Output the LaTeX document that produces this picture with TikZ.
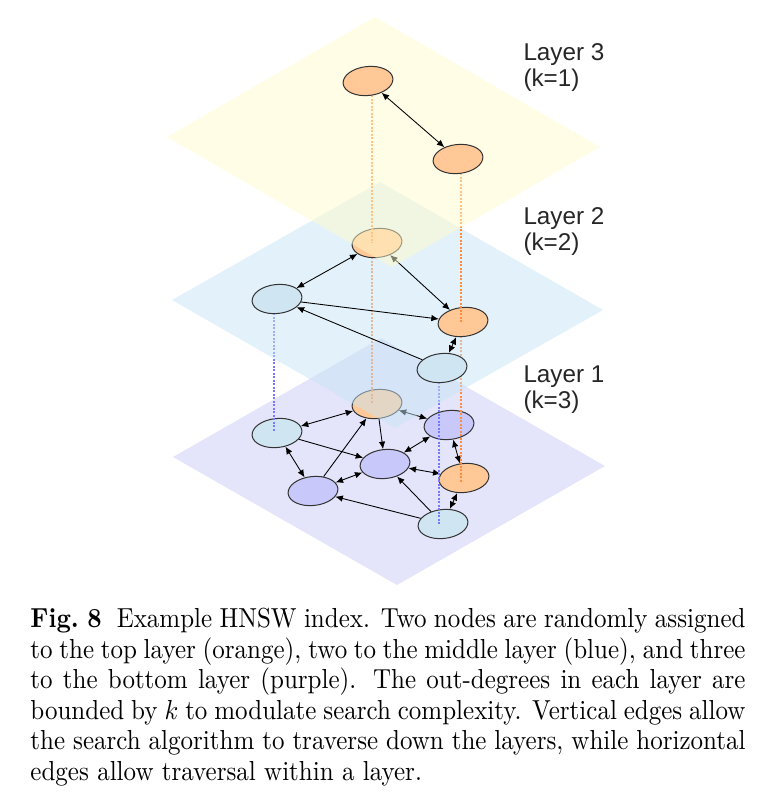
\documentclass[tikz,border=0pt]{standalone}
\usepackage{fontspec}
\usepackage{amsmath}
\usepackage{graphicx}
\usetikzlibrary{shapes.geometric, arrows.meta}
\newfontfamily\labelfont{Liberation Sans}
\definecolor{yellowplane}{RGB}{255,251,205}
\definecolor{blueplane}{RGB}{200,229,245}
\definecolor{purpleplane}{RGB}{228,228,251}
\definecolor{orangefill}{RGB}{255,200,150}
\definecolor{bluefill}{RGB}{207,229,242}
\definecolor{purplefill}{RGB}{200,200,250}
\definecolor{orangeline}{RGB}{255,140,60}
\definecolor{blueline}{RGB}{120,120,255}

\begin{document}
\begin{tikzpicture}[x=0.4pt,y=-0.4pt,
    hnode/.style={ellipse,draw=black!80,line width=0.4pt,minimum width=20pt,
                  minimum height=11.6pt,inner sep=0pt,rotate=6},
    onode/.style={hnode,fill=orangefill},
    bnode/.style={hnode,fill=bluefill},
    pnode/.style={hnode,fill=purplefill},
    bi/.style={{Latex[length=3pt,width=2.6pt]}-{Latex[length=3pt,width=2.6pt]},line width=0.35pt},
    uni/.style={-{Latex[length=3pt,width=2.6pt]},line width=0.35pt},
    odrop/.style={orangeline,line width=0.5pt,dash pattern=on 0.8pt off 0.6pt},
    bdrop/.style={blueline,line width=0.5pt,dash pattern=on 0.8pt off 0.6pt},
    layertxt/.style={anchor=north west,inner sep=0pt,align=left,text=black!85,
                     font=\labelfont\fontsize{9.7}{10.4}\selectfont}]
  \useasboundingbox (0,0) rectangle (772,793);

  % bottom layer
  \fill[purpleplane] (381,338) -- (605,466) -- (397,585) -- (173,457) -- cycle;

  \node[onode] (a1) at (377,404) {};
  \node[onode] (b1) at (464,478) {};
  \node[bnode] (c1) at (277,433) {};
  \node[bnode] (d1) at (443,524) {};
  \node[pnode] (e1) at (449,425) {};
  \node[pnode] (f1) at (385,464) {};
  \node[pnode] (g1) at (313,491) {};

  \draw[bi] (c1) -- (a1);
  \draw[bi] (a1) -- (e1);
  \draw[uni] (a1) -- (f1);
  \draw[uni] (c1) -- (f1);
  \draw[bi] (c1) -- (g1);
  \draw[uni] (g1) -- (a1);
  \draw[bi] (g1) -- (f1);
  \draw[bi] (e1) -- (f1);
  \draw[bi] (e1) -- (b1);
  \draw[bi] (f1) -- (b1);
  \draw[bi] (b1) -- (d1);
  \draw[uni] (d1) -- (f1);
  \draw[uni] (d1) -- (g1);

  % drops from middle layer
  \coordinate (a2top) at (372,243);
  \coordinate (a1bot) at (372,404);
  \coordinate (b2top) at (461,322);
  \coordinate (b1bot) at (461,483);
  \coordinate (c2top) at (274,299);
  \coordinate (c1bot) at (274,432);
  \coordinate (d2top) at (439,368);
  \coordinate (d1bot) at (439,525);
  \draw[odrop] (a2top) -- (a1bot);
  \draw[odrop] (b2top) -- (b1bot);
  \draw[bdrop] (c2top) -- (c1bot);
  \draw[bdrop] (d2top) -- (d1bot);

  % middle layer
  \fill[blueplane,fill opacity=0.5] (380,182) -- (603,310) -- (395,428) -- (172,300) -- cycle;

  \node[onode] (a2) at (377,243) {};
  \node[onode] (b2) at (463,322) {};
  \node[bnode] (c2) at (277,299) {};
  \node[bnode] (d2) at (442,368) {};

  \draw[bi] (c2) -- (a2);
  \draw[bi] (a2) -- (b2);
  \draw[uni] (c2) -- (b2);
  \draw[uni] (d2) -- (c2);
  \draw[bi] (b2) -- (d2);

  % drops from top layer
  \coordinate (a3top) at (372,81);
  \coordinate (b3top) at (461,159);
  \draw[odrop] (a3top) -- (a2top);
  \draw[odrop] (b3top) -- (b2top);

  % top layer
  \fill[yellowplane,fill opacity=0.5] (375,17) -- (600,147) -- (392,267) -- (167,137) -- cycle;

  \node[onode] (a3) at (368,81) {};
  \node[onode] (b3) at (458,159) {};
  \draw[bi] (a3) -- (b3);

  % layer names
  \node[layertxt] (l3) at (523,43.5) {Layer 3\\(k=1)};
  \node[layertxt] (l2) at (523,207.5) {Layer 2\\(k=2)};
  \node[layertxt] (l1) at (523,365.5) {Layer 1\\(k=3)};

  % caption
  \node[anchor=north west,inner sep=0pt] (cap) at (30,608)
       {\scalebox{1}[1.1]{\parbox{286pt}{\fontsize{10}{11.1}\selectfont
        \textbf{Fig.~8}\hspace{6pt}Example HNSW index. Two nodes are randomly assigned\linebreak
        to the top layer (orange), two to the middle layer (blue), and three\linebreak
        to the bottom layer (purple). The out-degrees in each layer are\linebreak
        bounded by $k$ to modulate search complexity. Vertical edges allow\linebreak
        the search algorithm to traverse down the layers, while horizontal\linebreak
        edges allow traversal within a layer.}}};
\end{tikzpicture}
\end{document}
